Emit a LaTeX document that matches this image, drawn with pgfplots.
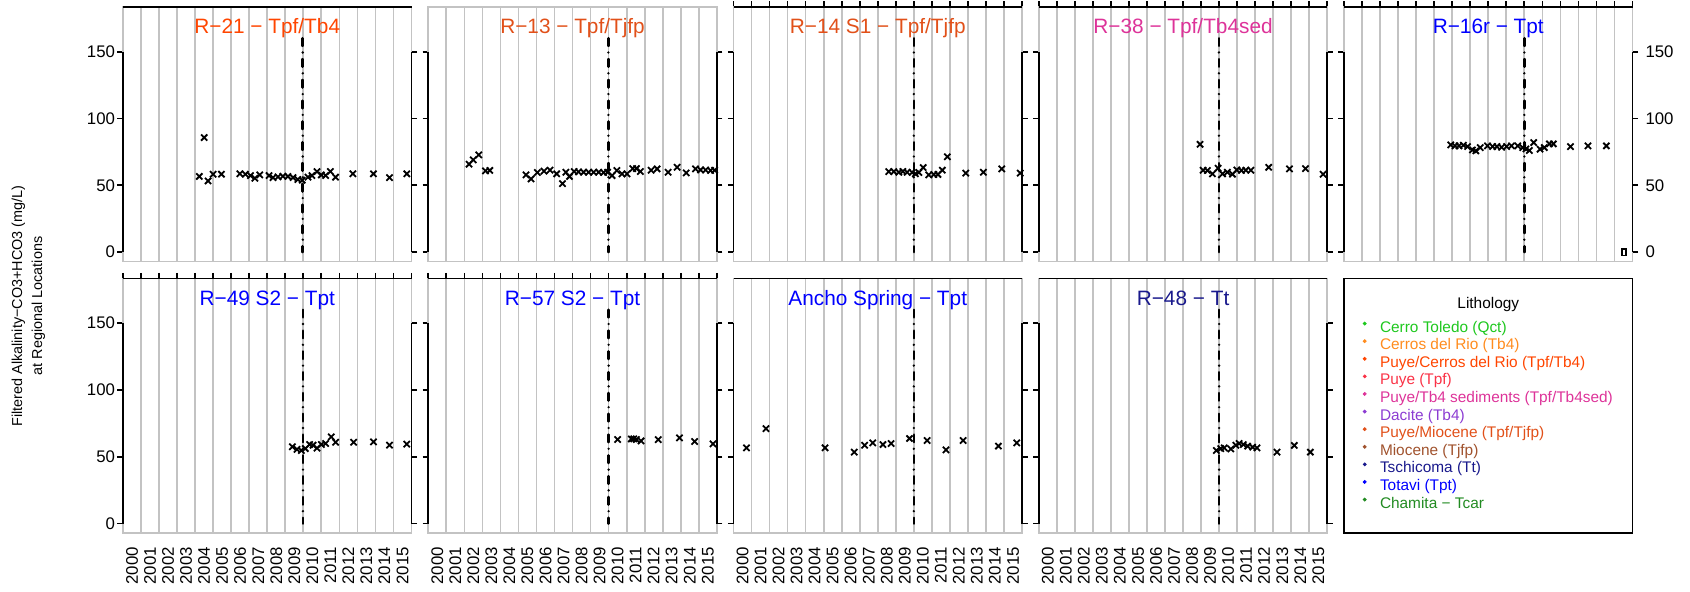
\documentclass[border=0pt]{standalone}
\usepackage{fontspec}
\setmainfont{Liberation Sans}
\usepackage{pgfplots}
\pgfplotsset{compat=1.18}
\definecolor{gr}{RGB}{195,195,195}
\definecolor{cQct}{RGB}{30,200,30}
\definecolor{cTbf}{RGB}{255,140,30}
\definecolor{cTpfTb}{RGB}{255,69,0}
\definecolor{cTpf}{RGB}{250,50,70}
\definecolor{cSed}{RGB}{221,51,153}
\definecolor{cDac}{RGB}{140,60,210}
\definecolor{cTpfTj}{RGB}{225,80,25}
\definecolor{cTjfp}{RGB}{160,82,45}
\definecolor{cTt}{RGB}{25,25,140}
\definecolor{cTpt}{RGB}{0,0,255}
\definecolor{cTcar}{RGB}{34,139,34}
\pgfplotsset{
  panel/.style={
    scale only axis, width=144.25pt, height=127.3pt,
    xmin=2000, xmax=2016, ymin=-7, ymax=183.5,
    xtick={2000,2001,...,2016}, ytick={0,50,100,150},
    xticklabels={}, yticklabels={},
    xmajorgrids, major x grid style={gr, line width=0.85pt},
    axis line style={gr, line width=0.85pt},
    tick align=outside, xtick pos=right, ytick pos=both,
    major tick length=2.8pt,
    tick style={black, line width=0.85pt},
    clip=false,
    ticklabel style={font=\fontsize{8.4}{10}\selectfont, inner sep=0pt},
  },
  leftlab/.style={yticklabels={0,50,100,150}, yticklabel pos=left, yticklabel style={xshift=-1pt}},
  rightlab/.style={yticklabels={0,50,100,150}, yticklabel pos=right, yticklabel style={xshift=3.5pt}},
  notopticks/.style={x tick style={draw=none}},
  xlab/.style={xticklabels={2000,2001,2002,2003,2004,2005,2006,2007,2008,2009,2010,2011,2012,2013,2014,2015,{}},
    xticklabel pos=left, xticklabel shift=4pt,
    xticklabel style={xshift=4.5pt, rotate=90, anchor=east}},
  pts/.style={only marks, mark=x, mark size=2.2pt, black, mark options={line width=0.9pt}},
  vline/.style={black, line width=1.3pt, line cap=round, dash pattern=on 3.8pt off 3.3pt on 0pt off 3.3pt},
}
\newcommand{\yaxes}{\draw[black, line width=0.85pt] (axis cs:2000,0) -- (axis cs:2000,150) (axis cs:2016,0) -- (axis cs:2016,150);}
\newcommand{\topline}{\draw[black, line width=0.85pt] (rel axis cs:0,1) -- (rel axis cs:1,1);}
\newcommand{\ptitle}[3]{\node[anchor=base, inner sep=0pt, font=\fontsize{10.4}{12}\selectfont, text=#1] at ([yshift=-#2]rel axis cs:0.5,1) {#3};}
\begin{document}
\begin{tikzpicture}
\path[use as bounding box] (0,0) rectangle (845pt,296pt);
\node[rotate=90, align=center, font=\fontsize{7.2}{10}\selectfont] at (14.25pt,143pt) {Filtered Alkalinity−CO3+HCO3 (mg/L)\\at Regional Locations};

% ---- top row ----
\begin{axis}[panel, leftlab, notopticks, at={(61.5pt,165.25pt)}, anchor=south west]
\addplot[vline] coordinates {(2009.97,160) (2009.97,0)};
\addplot[pts] coordinates {(2004.23,56.6)(2004.50,85.7)(2004.72,53.3)(2005.00,58.3)(2005.46,58.3)(2006.48,58.6)(2006.79,58.3)(2007.07,57.3)(2007.31,55.3)(2007.58,57.8)(2008.10,57.3)(2008.32,55.8)(2008.60,56.3)(2008.87,56.8)(2009.15,56.6)(2009.43,55.8)(2009.70,54.3)(2009.94,53.8)(2010.26,56.1)(2010.48,57.3)(2010.76,60.3)(2011.00,57.8)(2011.24,57.3)(2011.50,60.3)(2011.79,56.1)(2012.75,58.6)(2013.89,58.6)(2014.78,55.8)(2015.74,58.6)};
\yaxes \topline
\ptitle{cTpfTb}{13.5pt}{R−21 − Tpf/Tb4}
\end{axis}

\begin{axis}[panel, notopticks, at={(214.15pt,165.25pt)}, anchor=south west]
\addplot[vline] coordinates {(2009.99,160) (2009.99,0)};
\addplot[pts] coordinates {(2002.26,65.8)(2002.49,69.0)(2002.80,72.8)(2003.17,60.8)(2003.41,61.1)(2005.42,57.8)(2005.70,54.8)(2006.05,59.6)(2006.42,60.6)(2006.75,61.3)(2007.12,58.6)(2007.44,51.3)(2007.63,59.8)(2007.83,56.6)(2008.09,60.3)(2008.33,60.1)(2008.61,59.8)(2008.89,59.8)(2009.17,59.8)(2009.45,59.8)(2009.72,59.6)(2009.94,59.8)(2010.19,57.3)(2010.46,61.1)(2010.74,58.6)(2011.02,58.6)(2011.34,62.5)(2011.54,62.5)(2011.76,60.3)(2012.36,61.3)(2012.69,62.3)(2013.30,59.8)(2013.80,63.5)(2014.30,59.3)(2014.82,62.3)(2015.10,61.5)(2015.38,61.5)(2015.66,61.1)(2015.88,61.3)};
\yaxes
\ptitle{cTpfTj}{13.5pt}{R−13 − Tpf/Tjfp}
\end{axis}

\begin{axis}[panel, at={(366.75pt,165.25pt)}, anchor=south west]
\addplot[vline] coordinates {(2010,160) (2010,0)};
\addplot[pts] coordinates {(2008.61,60.3)(2008.89,60.3)(2009.17,59.8)(2009.39,60.3)(2009.63,59.8)(2009.91,59.6)(2010.09,58.6)(2010.28,59.6)(2010.52,63.3)(2010.83,57.8)(2011.11,58.1)(2011.34,58.1)(2011.58,61.3)(2011.86,71.3)(2012.88,59.1)(2013.86,59.8)(2014.88,62.3)(2015.90,59.1)};
\yaxes \topline
\ptitle{cTpfTj}{13.5pt}{R−14 S1 − Tpf/Tjfp}
\end{axis}

\begin{axis}[panel, at={(519.4pt,165.25pt)}, anchor=south west]
\addplot[vline] coordinates {(2009.99,160) (2009.99,0)};
\addplot[pts] coordinates {(2008.94,80.7)(2009.11,61.3)(2009.35,61.1)(2009.63,58.6)(2009.94,62.8)(2010.19,58.6)(2010.46,59.8)(2010.74,58.3)(2010.98,61.5)(2011.24,61.1)(2011.48,61.3)(2011.76,61.3)(2012.75,63.5)(2013.90,62.3)(2014.79,62.5)(2015.77,58.3)};
\yaxes \topline
\ptitle{cSed}{13.5pt}{R−38 − Tpf/Tb4sed}
\end{axis}

\begin{axis}[panel, rightlab, at={(672pt,165.25pt)}, anchor=south west]
\addplot[vline] coordinates {(2010,160) (2010,0)};
\addplot[pts] coordinates {(2005.92,80.2)(2006.16,79.5)(2006.38,79.5)(2006.62,80.0)(2006.85,79.0)(2007.12,76.5)(2007.31,75.8)(2007.55,78.2)(2007.96,79.5)(2008.24,79.0)(2008.48,79.0)(2008.74,78.5)(2009.02,79.0)(2009.29,79.5)(2009.63,79.5)(2009.91,78.2)(2010.09,77.2)(2010.28,76.0)(2010.52,82.0)(2010.87,77.0)(2011.11,78.2)(2011.39,81.0)(2011.61,81.0)(2012.56,79.0)(2013.53,79.5)(2014.55,79.5)};
\addplot[only marks, mark=square, mark size=1.6pt, black, mark options={xscale=0.55, line width=0.8pt}] coordinates {(2015.53,0)};
\yaxes \topline
\ptitle{cTpt}{13.5pt}{R−16r − Tpt}
\end{axis}

% ---- bottom row ----
\begin{axis}[panel, leftlab, xlab, at={(61.5pt,29.5pt)}, anchor=south west]
\addplot[vline] coordinates {(2009.98,160) (2009.98,0)};
\addplot[pts] coordinates {(2009.39,57.5)(2009.65,55.5)(2009.89,54.7)(2010.11,56.2)(2010.35,59.2)(2010.54,58.7)(2010.76,56.5)(2011.00,59.2)(2011.24,60.0)(2011.55,64.9)(2011.79,60.9)(2012.79,60.9)(2013.89,61.2)(2014.78,58.7)(2015.74,59.5)};
\yaxes \topline
\ptitle{cTpt}{13.7pt}{R−49 S2 − Tpt}
\end{axis}

\begin{axis}[panel, xlab, at={(214.15pt,29.5pt)}, anchor=south west]
\addplot[vline] coordinates {(2010,160) (2010,0)};
\addplot[pts] coordinates {(2010.50,62.9)(2011.26,63.4)(2011.39,63.4)(2011.54,62.9)(2011.80,61.9)(2012.75,62.9)(2013.93,64.2)(2014.77,61.4)(2015.79,59.7)};
\yaxes \topline
\ptitle{cTpt}{13.7pt}{R−57 S2 − Tpt}
\end{axis}

\begin{axis}[panel, xlab, notopticks, at={(366.75pt,29.5pt)}, anchor=south west]
\addplot[vline] coordinates {(2010,160) (2010,0)};
\addplot[pts] coordinates {(2000.72,56.7)(2001.80,71.1)(2005.08,56.7)(2006.70,53.5)(2007.27,58.7)(2007.72,60.4)(2008.29,59.2)(2008.74,59.9)(2009.76,63.7)(2010.74,62.2)(2011.78,55.2)(2012.73,62.2)(2014.69,58.0)(2015.71,60.4)};
\yaxes \topline
\ptitle{cTpt}{13.7pt}{Ancho Spring − Tpt}
\end{axis}

\begin{axis}[panel, xlab, notopticks, at={(519.4pt,29.5pt)}, anchor=south west]
\addplot[vline] coordinates {(2010,160) (2010,0)};
\addplot[pts] coordinates {(2009.85,54.7)(2010.09,56.2)(2010.28,56.7)(2010.65,55.9)(2010.93,58.7)(2011.11,60.0)(2011.34,59.2)(2011.58,58.0)(2011.86,57.2)(2012.10,56.7)(2013.21,53.5)(2014.17,58.5)(2015.06,53.5)};
\yaxes \topline
\ptitle{cTt}{13.7pt}{R−48 − Tt}
\end{axis}

% ---- legend box ----
\begin{axis}[at={(672pt,29.5pt)}, anchor=south west, scale only axis, width=144.25pt, height=127.3pt,
  xmin=0, xmax=1, ymin=0, ymax=1, xtick=\empty, ytick=\empty,
  axis line style={black, line width=0.8pt},
  legend cell align=left,
  legend style={at={(0.0637,0.8398)}, anchor=north west, draw=none, fill=none, inner sep=0pt,
    row sep=0pt, font=\fontsize{7.7}{9}\selectfont,
    nodes={inner sep=0pt, text height=6.3pt, text depth=2.5pt},
    /tikz/every odd column/.append style={column sep=6.7pt}},
  bul/.style={legend image code/.code={\fill (0pt,2.4pt) circle (0.75pt);}},
]
\node[anchor=base, inner sep=0pt, font=\fontsize{7.7}{9}\selectfont] at ([yshift=-15.3pt]rel axis cs:0.5,1) {Lithology};
\addlegendimage{bul, cQct}\addlegendentry{\color{cQct}Cerro Toledo (Qct)}
\addlegendimage{bul, cTbf}\addlegendentry{\color{cTbf}Cerros del Rio (Tb4)}
\addlegendimage{bul, cTpfTb}\addlegendentry{\color{cTpfTb}Puye/Cerros del Rio (Tpf/Tb4)}
\addlegendimage{bul, cTpf}\addlegendentry{\color{cTpf}Puye (Tpf)}
\addlegendimage{bul, cSed}\addlegendentry{\color{cSed}Puye/Tb4 sediments (Tpf/Tb4sed)}
\addlegendimage{bul, cDac}\addlegendentry{\color{cDac}Dacite (Tb4)}
\addlegendimage{bul, cTpfTj}\addlegendentry{\color{cTpfTj}Puye/Miocene (Tpf/Tjfp)}
\addlegendimage{bul, cTjfp}\addlegendentry{\color{cTjfp}Miocene (Tjfp)}
\addlegendimage{bul, cTt}\addlegendentry{\color{cTt}Tschicoma (Tt)}
\addlegendimage{bul, cTpt}\addlegendentry{\color{cTpt}Totavi (Tpt)}
\addlegendimage{bul, cTcar}\addlegendentry{\color{cTcar}Chamita − Tcar}
\end{axis}
\end{tikzpicture}
\end{document}
